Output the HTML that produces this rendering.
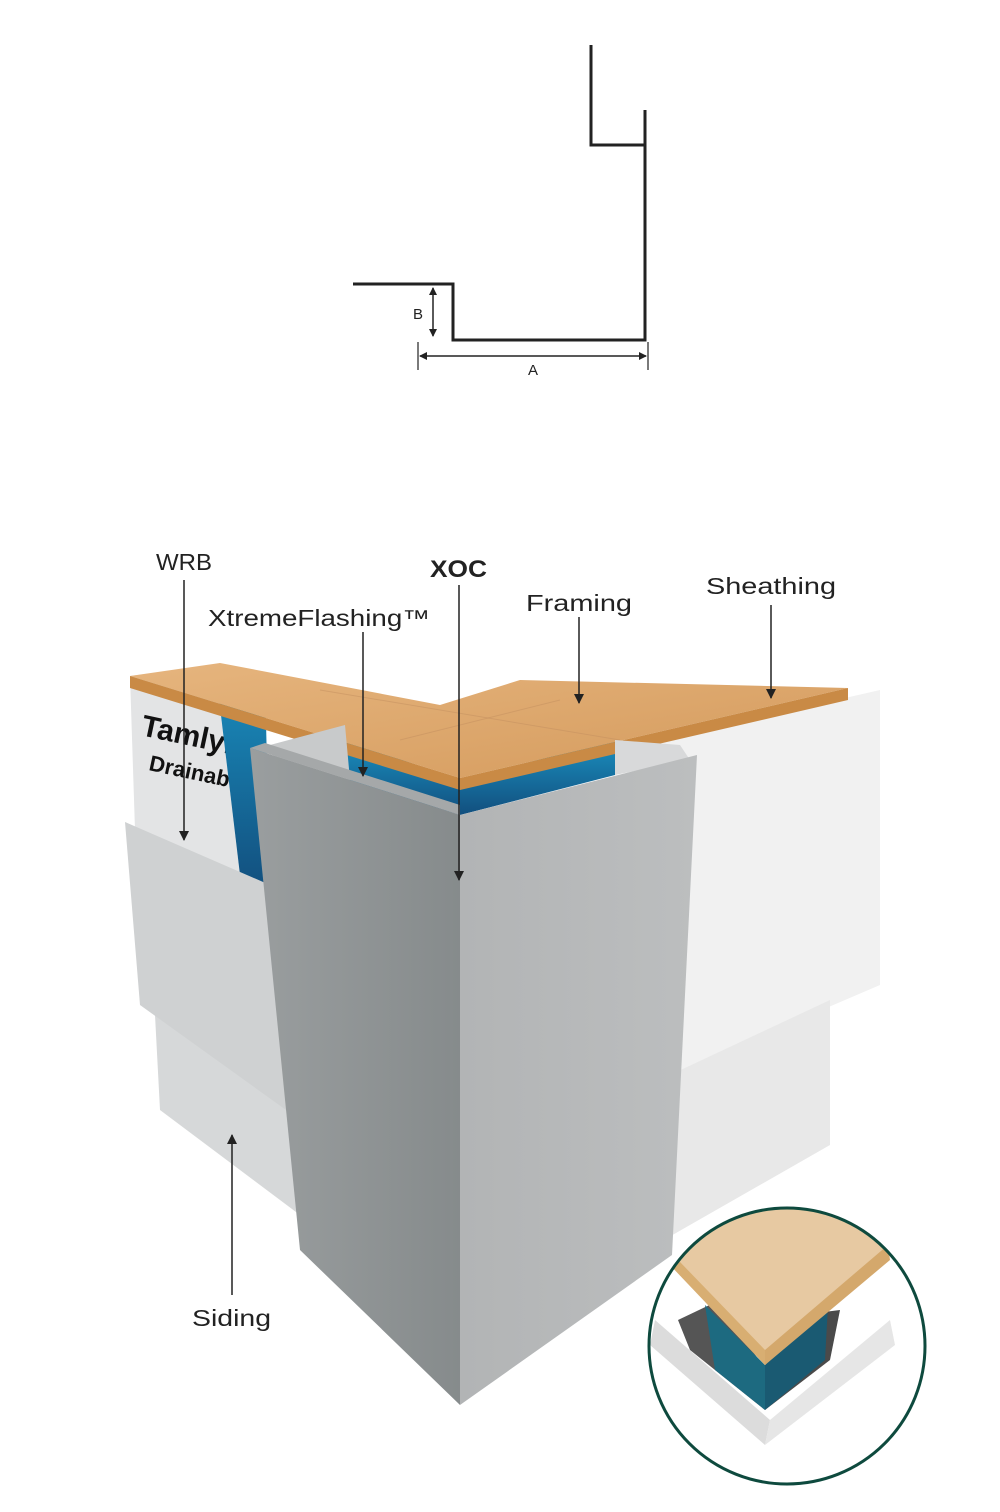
<!DOCTYPE html>
<html><head><meta charset="utf-8"><style>
html,body{margin:0;padding:0;background:#fff;width:1000px;height:1512px;overflow:hidden}
svg{display:block}
text{font-family:"Liberation Sans",sans-serif;fill:#222}
</style></head><body>
<svg width="1000" height="1512" viewBox="0 0 1000 1512" xmlns="http://www.w3.org/2000/svg">
<defs>
<marker id="ah" markerWidth="10" markerHeight="10" refX="9" refY="5" orient="auto" markerUnits="userSpaceOnUse"><path d="M0,0 L10,5 L0,10 z" fill="#222"/></marker>
<marker id="as" markerWidth="8" markerHeight="8" refX="7" refY="4" orient="auto-start-reverse" markerUnits="userSpaceOnUse"><path d="M0,0 L8,4 L0,8 z" fill="#222"/></marker>
<linearGradient id="wood" x1="0" y1="0" x2="1" y2="1"><stop offset="0" stop-color="#e6b57e"/><stop offset="1" stop-color="#d49a5c"/></linearGradient>
<linearGradient id="lf" x1="0" y1="0" x2="1" y2="0"><stop offset="0" stop-color="#9a9e9f"/><stop offset="1" stop-color="#868b8c"/></linearGradient>
<linearGradient id="rf" x1="0" y1="0" x2="1" y2="0"><stop offset="0" stop-color="#b2b4b5"/><stop offset="1" stop-color="#bcbebf"/></linearGradient>
<linearGradient id="blue" x1="0" y1="0" x2="0" y2="1"><stop offset="0" stop-color="#1a90c0"/><stop offset="1" stop-color="#124f7e"/></linearGradient>
<clipPath id="cc"><circle cx="787" cy="1346" r="138"/></clipPath>
</defs>

<!-- top profile -->
<path d="M591,45 V145 H645 M645,110 V340 H453 V284 H353" fill="none" stroke="#222" stroke-width="3"/>
<line x1="433" y1="288" x2="433" y2="336" stroke="#222" stroke-width="1.5" marker-start="url(#as)" marker-end="url(#as)"/>
<line x1="418" y1="342" x2="418" y2="370" stroke="#222" stroke-width="1.2"/>
<line x1="648" y1="342" x2="648" y2="370" stroke="#222" stroke-width="1.2"/>
<line x1="420" y1="356" x2="646" y2="356" stroke="#222" stroke-width="1.5" marker-start="url(#as)" marker-end="url(#as)"/>
<text x="413" y="319" font-size="15">B</text>
<text x="528" y="375" font-size="15">A</text>

<!-- right siding -->
<polygon points="640,745 880,690 880,985 845,1000 670,1075 660,980" fill="#f1f1f1"/>
<polygon points="670,1075 830,1000 830,1145 655,1245" fill="#e8e8e8"/>
<!-- left lower siding -->
<polygon points="155,1015 290,1100 300,1215 160,1110" fill="#d6d8d9"/>
<!-- WRB sheet -->
<polygon points="130,676 215,665 240,875 135,830" fill="#e3e4e5"/>
<text x="140" y="735" font-size="30" font-weight="bold" transform="rotate(12 140 735)" style="fill:#111">Tamlyn</text>
<text x="148" y="770" font-size="22" font-weight="bold" transform="rotate(12 148 770)" style="fill:#111">Drainable</text>
<!-- blue -->
<polygon points="215,665 265,680 270,890 240,875" fill="url(#blue)"/>
<polygon points="345,740 460,780 615,740 615,775 460,815 345,780" fill="url(#blue)"/>
<!-- wood -->
<polygon points="130,676 220,663 440,705 520,680 848,688 460,778" fill="url(#wood)"/>
<polygon points="130,676 460,778 848,688 848,700 460,790 130,688" fill="#c98a45"/>
<line x1="320" y1="690" x2="620" y2="740" stroke="#c49060" stroke-width="1" opacity=".5"/>
<line x1="400" y1="740" x2="560" y2="700" stroke="#c49060" stroke-width="1" opacity=".5"/>
<!-- channels -->
<polygon points="270,745 345,725 350,780 275,760" fill="#c8cacb"/>
<polygon points="615,740 680,745 690,760 615,775" fill="#d8d9da"/>
<!-- left upper siding -->
<polygon points="125,822 270,885 300,1120 140,1005" fill="#cfd1d2"/>
<!-- XOC -->
<polygon points="250,748 460,815 460,1405 300,1250" fill="url(#lf)"/>
<polygon points="460,815 697,755 672,1255 460,1405" fill="url(#rf)"/>
<polygon points="250,748 265,743 460,805 460,815" fill="#a5a8a9"/>

<!-- inset circle -->
<g clip-path="url(#cc)">
<rect x="640" y="1200" width="300" height="300" fill="#fff"/>
<polygon points="655,1320 770,1420 765,1445 650,1345" fill="#dcdcdc"/>
<polygon points="770,1420 890,1320 895,1345 765,1445" fill="#e6e6e6"/>
<polygon points="678,1320 720,1300 765,1370 765,1410 690,1350" fill="#555"/>
<polygon points="765,1410 765,1370 800,1315 840,1310 830,1360" fill="#4a4a4a"/>
<polygon points="705,1305 765,1365 765,1410 715,1370" fill="#1d6a80"/>
<polygon points="765,1365 828,1305 825,1360 765,1410" fill="#1a5a72"/>
<polygon points="670,1265 700,1200 880,1200 890,1250 765,1365" fill="#e7c9a2"/>
<polygon points="670,1265 765,1365 765,1350 680,1262" fill="#d8ae72"/>
<polygon points="765,1350 888,1245 890,1260 765,1365" fill="#d4a86c"/>
</g>
<circle cx="787" cy="1346" r="138" fill="none" stroke="#0e4a3e" stroke-width="3"/>

<!-- labels & arrows -->
<text x="156" y="570" font-size="23" textLength="56" lengthAdjust="spacingAndGlyphs">WRB</text>
<text x="208" y="626" font-size="23" textLength="222" lengthAdjust="spacingAndGlyphs">XtremeFlashing™</text>
<text x="430" y="577" font-size="24" font-weight="bold" textLength="57" lengthAdjust="spacingAndGlyphs">XOC</text>
<text x="526" y="611" font-size="23" textLength="106" lengthAdjust="spacingAndGlyphs">Framing</text>
<text x="706" y="594" font-size="23" textLength="130" lengthAdjust="spacingAndGlyphs">Sheathing</text>
<text x="192" y="1326" font-size="23" textLength="79" lengthAdjust="spacingAndGlyphs">Siding</text>
<line x1="184" y1="580" x2="184" y2="840" stroke="#222" stroke-width="1.5" marker-end="url(#ah)"/>
<line x1="363" y1="632" x2="363" y2="776" stroke="#222" stroke-width="1.5" marker-end="url(#ah)"/>
<line x1="459" y1="585" x2="459" y2="880" stroke="#222" stroke-width="1.5" marker-end="url(#ah)"/>
<line x1="579" y1="617" x2="579" y2="703" stroke="#222" stroke-width="1.5" marker-end="url(#ah)"/>
<line x1="771" y1="605" x2="771" y2="698" stroke="#222" stroke-width="1.5" marker-end="url(#ah)"/>
<line x1="232" y1="1295" x2="232" y2="1135" stroke="#222" stroke-width="1.5" marker-end="url(#ah)"/>
</svg>
</body></html>
